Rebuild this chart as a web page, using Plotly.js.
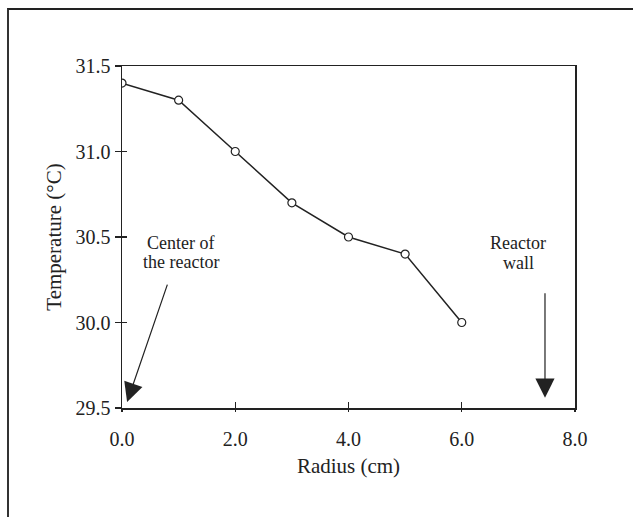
<!DOCTYPE html>
<html>
<head>
<meta charset="utf-8">
<script src="https://cdn.plot.ly/plotly-3.0.1.min.js"></script>
<style>
  html, body { margin: 0; padding: 0; background: #fff; }
  #wrap { position: relative; width: 633px; height: 517px; overflow: hidden; }
  #chart { position: absolute; left: 0; top: 0; width: 633px; height: 517px; }
  #frame { position: absolute; left: 7px; top: 8px; width: 700px; height: 600px;
           border-top: 2px solid #222; border-left: 2px solid #333; pointer-events: none; }
</style>
</head>
<body>
<div id="wrap">
  <div id="chart"></div>
  <div id="frame"></div>
</div>
<script>
// Data
const radius = [0, 1, 2, 3, 4, 5, 6];
const temperature = [31.4, 31.3, 31.0, 30.7, 30.5, 30.4, 30.0];
const xTicks = [0, 2, 4, 6, 8];
const xTickLabels = ["0.0", "2.0", "4.0", "6.0", "8.0"];
const yTicks = [29.5, 30.0, 30.5, 31.0, 31.5];
const yTickLabels = ["29.5", "30.0", "30.5", "31.0", "31.5"];

const font = "Liberation Serif, Times New Roman, serif";
const ink = "#222";

const trace = {
  x: radius,
  y: temperature,
  type: "scatter",
  mode: "lines+markers",
  line: { color: ink, width: 1.5 },
  marker: { symbol: "circle", size: 8, color: "#fff", line: { color: ink, width: 1.2 } },
  showlegend: false,
  hoverinfo: "skip"
};

const layout = {
  width: 633,
  height: 517,
  margin: { l: 122, r: 58, t: 66, b: 109 },
  paper_bgcolor: "#fff",
  plot_bgcolor: "#fff",
  font: { family: font, color: ink, size: 20 },
  xaxis: {
    range: [0, 8],
    tickvals: xTicks,
    ticktext: xTickLabels,
    ticks: "inside",
    ticklen: 6,
    tickwidth: 1.2,
    tickcolor: ink,
    ticklabelstandoff: 12,
    showline: true,
    linecolor: ink,
    linewidth: 1.5,
    mirror: true,
    showgrid: false,
    zeroline: false,
    tickfont: { family: font, size: 20, color: ink },
    title: { text: "Radius (cm)", font: { family: font, size: 21, color: ink }, standoff: 10 }
  },
  xaxis2: {
    overlaying: "x",
    range: [0, 8],
    tickvals: xTicks,
    ticks: "outside",
    ticklen: 3,
    tickwidth: 1.2,
    tickcolor: ink,
    showticklabels: false,
    showline: false,
    showgrid: false,
    zeroline: false
  },
  yaxis: {
    range: [29.5, 31.5],
    tickvals: yTicks,
    ticktext: yTickLabels,
    ticks: "outside",
    ticklen: 6,
    tickwidth: 1.2,
    tickcolor: ink,
    showline: true,
    linecolor: ink,
    linewidth: 1.5,
    mirror: true,
    showgrid: false,
    zeroline: false,
    tickfont: { family: font, size: 20, color: ink },
    title: { text: "Temperature (°C)", font: { family: font, size: 21, color: ink }, standoff: 8 }
  },
  yaxis2: {
    overlaying: "y",
    range: [29.5, 31.5],
    tickvals: yTicks,
    ticks: "inside",
    ticklen: 5,
    tickwidth: 1.2,
    tickcolor: ink,
    showticklabels: false,
    showline: false,
    showgrid: false,
    zeroline: false
  },
  annotations: [
    { x: 1.04, y: 30.465, xref: "x", yref: "y", text: "Center of", showarrow: false,
      font: { family: font, size: 18, color: ink } },
    { x: 1.04, y: 30.352, xref: "x", yref: "y", text: "the reactor", showarrow: false,
      font: { family: font, size: 18, color: ink } },
    { x: 7.0, y: 30.465, xref: "x", yref: "y", text: "Reactor", showarrow: false,
      font: { family: font, size: 18, color: ink } },
    { x: 7.0, y: 30.348, xref: "x", yref: "y", text: "wall", showarrow: false,
      font: { family: font, size: 18, color: ink } },
    {
      x: 0.09, y: 29.535, xref: "x", yref: "y",
      ax: 0.81, ay: 30.23, axref: "x", ayref: "y",
      text: "", showarrow: true, arrowhead: 2, arrowsize: 3.2, arrowwidth: 1.2,
      arrowcolor: ink, standoff: 0
    },
    {
      x: 7.47, y: 29.56, xref: "x", yref: "y",
      ax: 7.47, ay: 30.18, axref: "x", ayref: "y",
      text: "", showarrow: true, arrowhead: 2, arrowsize: 3.2, arrowwidth: 1.2,
      arrowcolor: ink, standoff: 0
    }
  ]
};

const ghostX = { x: [], y: [], xaxis: "x2", yaxis: "y", type: "scatter", showlegend: false };
const ghostY = { x: [], y: [], xaxis: "x", yaxis: "y2", type: "scatter", showlegend: false };

Plotly.newPlot("chart", [trace, ghostX, ghostY], layout, { displayModeBar: false, staticPlot: true });
</script>
</body>
</html>
